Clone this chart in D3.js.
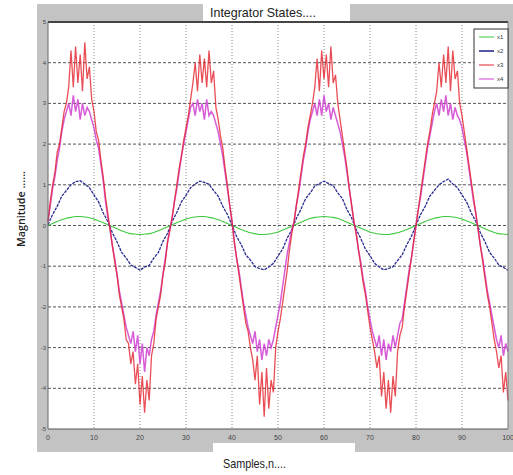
<!DOCTYPE html>
<html>
<head>
<meta charset="utf-8">
<script src="https://cdn.jsdelivr.net/npm/d3@7"></script>
<style>
    html, body { margin: 0; padding: 0; background: #fff; }
    svg { display: block; }
</style>
</head>
<body>
<div id="chart"></div>
<script>
// sample axis
var xTicks = [0, 10, 20, 30, 40, 50, 60, 70, 80, 90, 100];
var yTicks = [-5, -4, -3, -2, -1, 0, 1, 2, 3, 4, 5];
var seriesNames = ['x1', 'x2', 'x3', 'x4'];

// x1 and x2: one value per sample, n = 0..100
var x1Values = [
    0.00, 0.05, 0.10, 0.14, 0.18, 0.20, 0.22, 0.22, 0.21, 0.19, 0.16, 0.11, 0.07, 0.02,
    -0.03, -0.08, -0.13, -0.17, -0.20, -0.21, -0.22, -0.21, -0.20, -0.17, -0.13, -0.08, -0.03,
    0.02, 0.07, 0.11, 0.16, 0.19, 0.21, 0.22, 0.22, 0.20, 0.18, 0.14, 0.10, 0.05,
    0.00, -0.05, -0.10, -0.14, -0.18, -0.20, -0.22, -0.22, -0.21, -0.19, -0.16, -0.11, -0.07, -0.02,
    0.03, 0.08, 0.13, 0.17, 0.20, 0.21, 0.22, 0.21, 0.20, 0.17, 0.13, 0.08, 0.03,
    -0.02, -0.07, -0.11, -0.16, -0.19, -0.21, -0.22, -0.22, -0.20, -0.18, -0.14, -0.10, -0.05,
    0.00, 0.05, 0.10, 0.14, 0.18, 0.20, 0.22, 0.22, 0.21, 0.19, 0.16, 0.11, 0.07, 0.02,
    -0.03, -0.08, -0.13, -0.17, -0.20, -0.21, -0.22
];
var x2Values = [
    0.02, 0.27, 0.47, 0.72, 0.86, 1.00, 1.08, 1.10, 1.02, 0.93, 0.75, 0.58, 0.31, 0.10,
    -0.18, -0.40, -0.66, -0.80, -0.97, -1.03, -1.10, -1.02, -0.98, -0.80, -0.66, -0.39, -0.19,
    0.10, 0.32, 0.58, 0.74, 0.93, 1.02, 1.09, 1.06, 1.01, 0.86, 0.72, 0.47, 0.27,
    0.01, -0.27, -0.47, -0.72, -0.85, -1.01, -1.06, -1.09, -1.02, -0.93, -0.75, -0.58, -0.31, -0.10,
    0.18, 0.40, 0.66, 0.80, 0.97, 1.03, 1.09, 1.03, 0.98, 0.80, 0.66, 0.39, 0.19,
    -0.10, -0.32, -0.58, -0.74, -0.93, -1.02, -1.09, -1.06, -1.01, -0.86, -0.72, -0.47, -0.27,
    0.01, 0.27, 0.47, 0.72, 0.86, 1.00, 1.08, 1.14, 1.02, 0.93, 0.75, 0.58, 0.31, 0.10,
    -0.18, -0.40, -0.66, -0.80, -0.97, -1.03, -1.10
];

// x3 and x4: two values per sample, t = 0, 0.5, ... 100
var x3Values = [
    0.1, 0.6, 1.0, 1.3, 1.8, 2.0, 2.4, 2.8, 3.0, 3.4, 4.3, 3.4, 4.4, 3.5, 4.2, 3.3, 4.5, 3.6, 3.9, 3.1, 2.8, 2.3, 2.1, 1.6, 1.2, 0.7, 0.3,
    -0.1, -0.5, -0.9, -1.2, -1.7, -2.0, -2.3, -2.8, -2.9, -3.4, -3.1, -3.9, -3.4, -4.4, -3.7, -4.6, -3.8, -4.3, -3.2, -2.9, -2.3, -2.0, -1.7, -1.2, -0.9, -0.4, -0.1,
    0.2, 0.6, 1.0, 1.4, 1.7, 2.1, 2.4, 2.7, 3.1, 3.5, 4.0, 3.3, 4.2, 3.5, 4.1, 3.4, 4.3, 3.5, 3.8, 2.9, 2.6, 2.2, 1.9, 1.4, 1.0, 0.5, 0.1,
    -0.4, -0.8, -1.2, -1.6, -2.0, -2.4, -2.6, -3.0, -3.3, -3.8, -3.2, -4.4, -3.6, -4.7, -3.5, -4.5, -3.8, -4.1, -3.0, -2.6, -2.3, -1.9, -1.5, -1.1, -0.6, -0.2,
    0.1, 0.5, 0.9, 1.3, 1.7, 2.0, 2.4, 2.7, 3.0, 3.4, 4.1, 3.3, 4.3, 3.6, 4.2, 3.4, 4.4, 3.5, 3.7, 3.0, 2.6, 2.2, 1.8, 1.4, 0.9, 0.5, 0.1,
    -0.2, -0.6, -1.0, -1.4, -1.7, -2.1, -2.5, -2.8, -3.1, -3.5, -3.2, -4.2, -3.6, -4.5, -3.8, -4.6, -3.7, -4.2, -3.1, -2.7, -2.5, -2.0, -1.6, -1.2, -0.8, -0.4, 0.0,
    0.4, 0.8, 1.2, 1.6, 2.0, 2.3, 2.7, 3.0, 3.3, 4.0, 3.4, 4.2, 3.5, 4.4, 3.3, 4.3, 3.6, 3.8, 3.0, 2.7, 2.3, 1.9, 1.5, 1.1, 0.7, 0.3,
    -0.1, -0.5, -0.9, -1.3, -1.7, -2.0, -2.4, -2.8, -3.1, -3.5, -3.2, -4.1, -3.6, -4.3
];
var x4Values = [
    0.1, 0.5, 0.9, 1.2, 1.6, 1.9, 2.3, 2.6, 2.8, 3.0, 2.7, 3.2, 2.8, 3.1, 2.6, 3.0, 2.7, 2.9, 2.8, 2.6, 2.4, 2.1, 1.9, 1.5, 1.1, 0.6, 0.2,
    -0.1, -0.5, -0.8, -1.2, -1.6, -1.9, -2.2, -2.5, -2.7, -2.9, -2.6, -3.1, -2.7, -3.4, -2.9, -3.6, -3.0, -3.2, -2.8, -2.6, -2.2, -1.9, -1.6, -1.2, -0.8, -0.4, -0.1,
    0.2, 0.6, 0.9, 1.3, 1.7, 2.0, 2.3, 2.6, 2.9, 3.0, 2.7, 3.1, 2.8, 3.0, 2.6, 3.1, 2.7, 2.8, 2.7, 2.5, 2.3, 2.0, 1.7, 1.3, 0.9, 0.5, 0.1,
    -0.4, -0.8, -1.1, -1.5, -1.9, -2.2, -2.5, -2.7, -2.9, -2.6, -3.1, -2.8, -3.3, -2.9, -3.2, -2.8, -3.0, -2.8, -2.5, -2.2, -1.9, -1.5, -1.1, -0.7, -0.4, -0.1,
    0.1, 0.5, 0.8, 1.2, 1.6, 1.9, 2.3, 2.6, 2.8, 3.0, 2.7, 3.1, 2.7, 3.2, 2.8, 3.0, 2.6, 2.9, 2.7, 2.5, 2.3, 2.0, 1.7, 1.3, 0.9, 0.5, 0.1,
    -0.2, -0.6, -0.9, -1.3, -1.6, -2.0, -2.3, -2.6, -2.8, -3.0, -2.7, -3.2, -2.8, -3.3, -2.9, -3.1, -2.7, -3.0, -2.7, -2.4, -2.3, -1.9, -1.5, -1.1, -0.8, -0.4, 0.0,
    0.4, 0.7, 1.1, 1.5, 1.9, 2.2, 2.5, 2.8, 3.0, 2.7, 3.1, 2.8, 3.2, 2.7, 3.0, 2.6, 2.9, 2.7, 2.6, 2.4, 2.1, 1.8, 1.4, 1.0, 0.6, 0.3,
    -0.1, -0.5, -0.8, -1.2, -1.6, -1.9, -2.2, -2.5, -2.8, -3.0, -2.7, -3.2, -2.9, -3.1
];

var colors = {x1: '#3cc83c', x2: '#2a2d8e', x3: '#e3232d', x4: '#d040d0'};

var width = 513, height = 475;
var plot = {left: 48, right: 508, top: 22, bottom: 429};

var svg = d3.select('#chart')
    .append('svg')
    .attr('width', width)
    .attr('height', height);

var defs = svg.append('defs');
defs.append('filter')
    .attr('id', 'soft')
    .append('feGaussianBlur')
    .attr('stdDeviation', 0.6);

var x = d3.scaleLinear().domain([0, 100]).range([plot.left, plot.right]);
var y = d3.scaleLinear().domain([-5, 5]).range([plot.bottom, plot.top]);

// grey figure margins
var grey = '#c3c3c3';
var greyBoxes = [
    [37, 4, 476, 18],      // top band
    [37, 4, 11, 448],      // left strip
    [508, 4, 5, 448],      // right strip
    [37, 429, 476, 23]     // bottom band
];
svg.selectAll('.fig-bg')
    .data(greyBoxes)
    .enter()
    .append('rect')
    .attr('class', 'fig-bg')
    .attr('x', function (d) { return d[0]; })
    .attr('y', function (d) { return d[1]; })
    .attr('width', function (d) { return d[2]; })
    .attr('height', function (d) { return d[3]; })
    .attr('fill', grey);

// plot background
svg.append('rect')
    .attr('x', plot.left)
    .attr('y', plot.top)
    .attr('width', plot.right - plot.left)
    .attr('height', plot.bottom - plot.top)
    .attr('fill', '#fff');

// grid
svg.selectAll('.vgrid')
    .data(xTicks.slice(1, -1))
    .enter()
    .append('line')
    .attr('class', 'vgrid')
    .attr('x1', function (d) { return x(d); })
    .attr('x2', function (d) { return x(d); })
    .attr('y1', plot.top)
    .attr('y2', plot.bottom)
    .attr('stroke', '#8a8a8a')
    .attr('stroke-width', 1)
    .attr('stroke-dasharray', '1,2');

svg.selectAll('.hgrid')
    .data(yTicks.slice(1, -1))
    .enter()
    .append('line')
    .attr('class', 'hgrid')
    .attr('x1', plot.left)
    .attr('x2', plot.right)
    .attr('y1', function (d) { return y(d); })
    .attr('y2', function (d) { return y(d); })
    .attr('stroke', '#555')
    .attr('stroke-width', 1)
    .attr('stroke-dasharray', '3,2');

// series
var lines = svg.append('g').attr('filter', 'url(#soft)');

var lineStep1 = d3.line()
    .x(function (d, i) { return x(i); })
    .y(function (d) { return y(d); });

var lineStepHalf = d3.line()
    .x(function (d, i) { return x(i * 0.5); })
    .y(function (d) { return y(d); });

lines.append('path')
    .datum(x1Values)
    .attr('fill', 'none')
    .attr('stroke', colors.x1)
    .attr('stroke-width', 1.1)
    .attr('d', d3.line()
        .x(function (d, i) { return x(i); })
        .y(function (d) { return y(d); })
        .curve(d3.curveMonotoneX));

lines.append('path')
    .datum(x2Values)
    .attr('fill', 'none')
    .attr('stroke', colors.x2)
    .attr('stroke-width', 1.3)
    .attr('stroke-dasharray', '3,1')
    .attr('d', lineStep1);

// x4 under x3 so the shared slopes read red-pink
lines.append('path')
    .datum(x4Values)
    .attr('fill', 'none')
    .attr('stroke', colors.x4)
    .attr('stroke-width', 1.5)
    .attr('stroke-opacity', 0.85)
    .attr('d', lineStepHalf);

lines.append('path')
    .datum(x3Values)
    .attr('fill', 'none')
    .attr('stroke', colors.x3)
    .attr('stroke-width', 1.3)
    .attr('stroke-opacity', 0.8)
    .attr('d', lineStepHalf);

// axes frame
svg.append('line')
    .attr('x1', plot.left).attr('x2', plot.right)
    .attr('y1', plot.top).attr('y2', plot.top)
    .attr('stroke', '#444').attr('stroke-width', 2);
svg.append('line')
    .attr('x1', plot.left).attr('x2', plot.right)
    .attr('y1', plot.bottom).attr('y2', plot.bottom)
    .attr('stroke', '#555').attr('stroke-width', 1);
svg.append('line')
    .attr('x1', plot.left).attr('x2', plot.left)
    .attr('y1', plot.top).attr('y2', plot.bottom)
    .attr('stroke', '#666').attr('stroke-width', 1);
svg.append('line')
    .attr('x1', plot.right).attr('x2', plot.right)
    .attr('y1', plot.top).attr('y2', plot.bottom)
    .attr('stroke', '#777').attr('stroke-width', 1);

// tick labels
svg.selectAll('.ytick')
    .data(yTicks)
    .enter()
    .append('text')
    .attr('class', 'ytick')
    .attr('x', 46)
    .attr('y', function (d) { return y(d) + 2; })
    .attr('text-anchor', 'end')
    .attr('font-family', 'Liberation Sans Narrow, sans-serif')
    .attr('font-size', 6)
    .attr('fill', '#444')
    .text(function (d) { return d; });

svg.selectAll('.xtick')
    .data(xTicks)
    .enter()
    .append('text')
    .attr('class', 'xtick')
    .attr('x', function (d) { return x(d); })
    .attr('y', 440)
    .attr('text-anchor', 'middle')
    .attr('font-family', 'Liberation Sans Narrow, sans-serif')
    .attr('font-size', 7)
    .attr('fill', '#444')
    .text(function (d) { return d; });

// white boxes for title and x label
svg.append('rect')
    .attr('x', 203).attr('y', 0)
    .attr('width', 147).attr('height', 21)
    .attr('fill', '#fff');
svg.append('rect')
    .attr('x', 213).attr('y', 443)
    .attr('width', 142).attr('height', 32)
    .attr('fill', '#fff');

svg.append('text')
    .attr('x', 210)
    .attr('y', 17)
    .attr('font-family', 'Liberation Sans Narrow, Arial Narrow, sans-serif')
    .attr('font-size', 13)
    .attr('fill', '#222')
    .attr('textLength', 106)
    .attr('lengthAdjust', 'spacingAndGlyphs')
    .text('Integrator States....');

svg.append('text')
    .attr('x', 223)
    .attr('y', 468)
    .attr('font-family', 'Liberation Sans Narrow, Arial Narrow, sans-serif')
    .attr('font-size', 13)
    .attr('fill', '#222')
    .attr('textLength', 63)
    .attr('lengthAdjust', 'spacingAndGlyphs')
    .text('Samples,n....');

svg.append('text')
    .attr('transform', 'translate(25,247) rotate(-90)')
    .attr('font-family', 'Open Sans, sans-serif')
    .attr('font-size', 11)
    .attr('font-weight', 600)
    .attr('fill', '#222')
    .attr('textLength', 76)
    .attr('lengthAdjust', 'spacingAndGlyphs')
    .text('Magnitude ......');

// legend
var legend = svg.append('g').attr('transform', 'translate(474,29)');
legend.append('rect')
    .attr('width', 34)
    .attr('height', 59)
    .attr('fill', '#fff')
    .attr('stroke', '#333')
    .attr('stroke-width', 1);

var items = legend.selectAll('.item')
    .data(seriesNames)
    .enter()
    .append('g')
    .attr('class', 'item')
    .attr('transform', function (d, i) { return 'translate(0,' + (8 + i * 14) + ')'; });

items.append('line')
    .attr('x1', 5).attr('x2', 20)
    .attr('stroke', function (d) { return colors[d]; })
    .attr('stroke-width', function (d) { return d === 'x2' ? 1.6 : 1; });

items.append('text')
    .attr('x', 23)
    .attr('y', 2)
    .attr('font-family', 'Liberation Sans Narrow, sans-serif')
    .attr('font-size', 6)
    .attr('fill', '#333')
    .text(function (d) { return d; });
</script>
</body>
</html>
